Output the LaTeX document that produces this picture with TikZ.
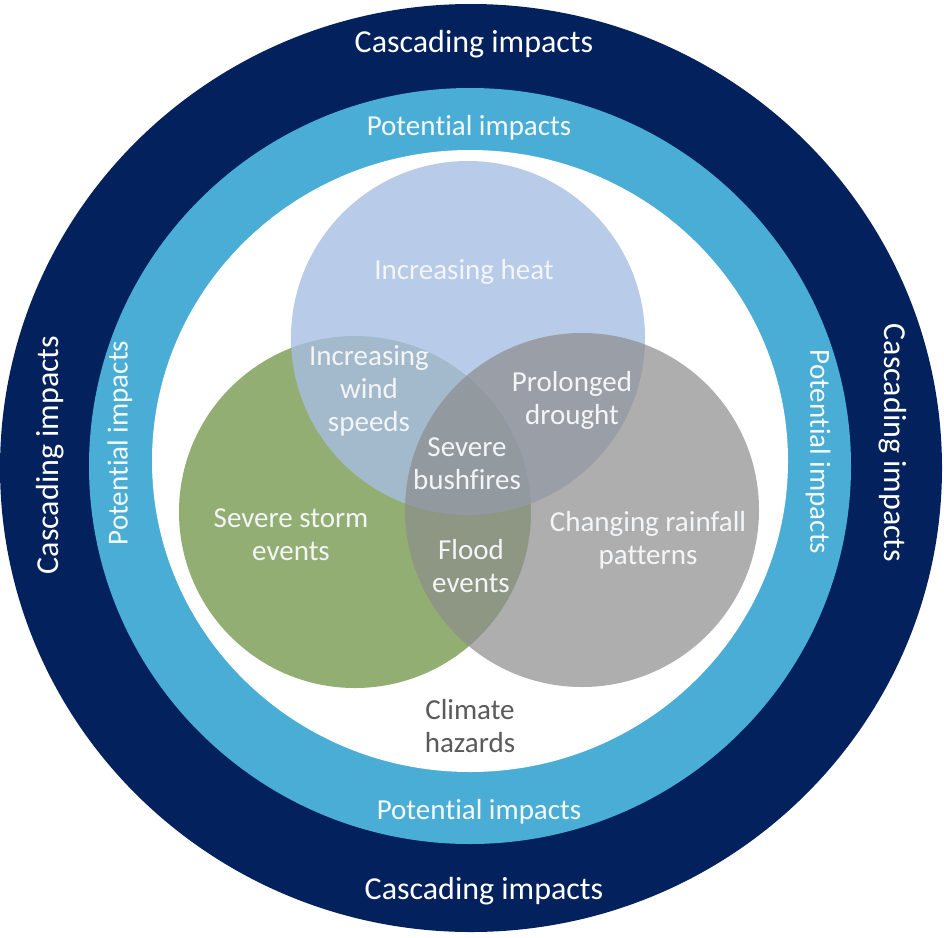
\documentclass[tikz,border=0pt]{standalone}
\usepackage{fontspec}
\setmainfont{Carlito}[Ligatures={NoCommon,NoRare,NoContextual},RawFeature={-calt;-liga;-dlig}]
\definecolor{navyring}{RGB}{3,33,92}
\definecolor{skyring}{RGB}{74,173,213}
\definecolor{heatblue}{RGB}{167,190,227}
\definecolor{stormgreen}{RGB}{147,174,114}
\definecolor{raingray}{RGB}{140,140,140}
\definecolor{hazardtext}{RGB}{90,90,90}
\definecolor{vennt}{RGB}{243,245,247}
\newcommand{\potlabel}{Poten\kern0pt tial impacts}
\begin{document}
\begin{tikzpicture}[x=1pt,y=-1pt,
  lab/.style={font=\fontsize{29}{33}\selectfont, text=vennt, align=center, inner sep=0pt},
  casc/.style={font=\fontsize{32}{36}\selectfont, text=white, inner sep=0pt},
  pot/.style={font=\fontsize{29}{33}\selectfont, text=white!94!skyring, inner sep=0pt}]
\useasboundingbox (0,0) rectangle (944,937);
% rings
\fill[navyring] (471,468) ellipse [x radius=471pt, y radius=464pt];
\fill[skyring] (470,466) ellipse [x radius=381pt, y radius=378pt];
\fill[white] (470,461) ellipse [x radius=318pt, y radius=311pt];
% venn circles
\fill[stormgreen] (355,512) circle [radius=176pt];
\fill[heatblue, fill opacity=0.8] (468,338) circle [radius=177pt];
\fill[raingray, fill opacity=0.7] (582,510) circle [radius=177pt];
% ring labels
\node[casc] (ct) at (474,44) {Cascading impacts};
\node[casc] (cb) at (484,891) {Cascading impacts};
\node[casc, rotate=90] (cl) at (50,455) {Cascading impacts};
\node[casc, rotate=-90] (cr) at (893,443) {Cascading impacts};
\node[pot] (pt) at (469,128) {\potlabel};
\node[pot] (pb) at (479,812) {\potlabel};
\node[pot, rotate=90] (pl) at (120,443) {\potlabel};
\node[pot, rotate=-90] (pr) at (818,452) {\potlabel};
% venn labels
\node[lab] (heat) at (464,272) {Increasing heat};
\node[lab] (wind) at (369,391) {Increasing\\wind\\speeds};
\node[lab] (drought) at (572,400) {Prolonged\\drought};
\node[lab] (fire) at (467,464) {Severe\\bushfires};
\node[lab] (storm) at (291,535) {Severe storm\\events};
\node[lab] (flood) at (471,566) {Flood\\events};
\node[lab] (rain) at (648,540) {Changing rainfall\\patterns};
\node[lab, text=hazardtext] (haz) at (470,726) {Climate\\hazards};
\end{tikzpicture}
\end{document}
